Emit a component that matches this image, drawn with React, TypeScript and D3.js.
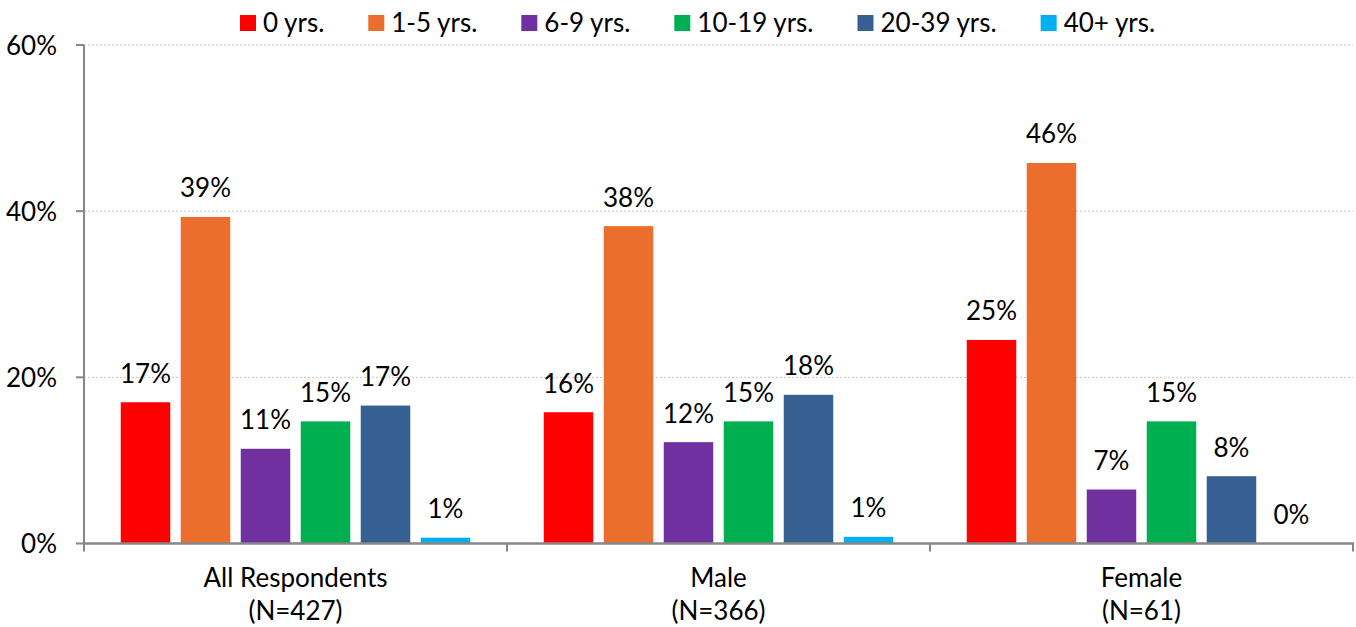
import React, { useEffect, useRef } from "react";
import * as d3 from "d3";

const groups = ["All Respondents", "Male", "Female"];
const groupNs = ["(N=427)", "(N=366)", "(N=61)"];
const seriesNames = ["0 yrs.", "1-5 yrs.", "6-9 yrs.", "10-19 yrs.", "20-39 yrs.", "40+ yrs."];
const seriesColors = ["#FF0000", "#EB6E2D", "#7030A0", "#00B050", "#366092", "#00B0F0"];

// percentage of respondents per tenure bucket, one array per group
const allRespondents = [17.0, 39.3, 11.4, 14.7, 16.6, 0.7];
const male = [15.8, 38.2, 12.2, 14.7, 17.9, 0.8];
const female = [24.5, 45.8, 6.5, 14.7, 8.1, 0.0];
const groupValues = [allRespondents, male, female];

const yTicks = [0, 20, 40, 60];

const W = 1356;
const H = 627;
const FONT = "Lato, 'Open Sans', sans-serif";
const FS = 26;

export default function App() {
  const ref = useRef<SVGSVGElement | null>(null);

  useEffect(() => {
    const svg = d3.select(ref.current);
    svg.selectAll("*").remove();

    const left = 84;
    const right = 1353;
    const bottom = 543.5;
    const top = 45;

    const x0 = d3.scaleBand<string>().domain(groups).range([left, right]).padding(0);
    const x1 = d3
      .scaleBand<string>()
      .domain(seriesNames)
      .range([0, x0.bandwidth()])
      .paddingInner(0.175)
      .paddingOuter(0.6125);
    const y = d3.scaleLinear().domain([0, 60]).range([bottom, top]);

    // gridlines
    svg
      .append("g")
      .selectAll("line")
      .data(yTicks.filter((t) => t > 0))
      .join("line")
      .attr("x1", left)
      .attr("x2", right)
      .attr("y1", (d) => y(d))
      .attr("y2", (d) => y(d))
      .attr("stroke", "#c4c4c4")
      .attr("stroke-width", 1)
      .attr("stroke-dasharray", "2,2");

    // bars
    const g = svg
      .append("g")
      .selectAll("g")
      .data(groups)
      .join("g")
      .attr("transform", (d) => `translate(${x0(d)},0)`);

    g.selectAll("rect")
      .data((d, i) => groupValues[i].map((v, j) => ({ key: seriesNames[j], v, c: seriesColors[j] })))
      .join("rect")
      .attr("x", (d) => x1(d.key)!)
      .attr("width", x1.bandwidth())
      .attr("y", (d) => y(d.v))
      .attr("height", (d) => bottom - y(d.v))
      .attr("fill", (d) => d.c);

    // value labels
    g.selectAll("text")
      .data((d, i) => groupValues[i].map((v, j) => ({ key: seriesNames[j], v })))
      .join("text")
      .attr("x", (d) => x1(d.key)! + x1.bandwidth() / 2)
      .attr("y", (d) => y(d.v) - 19.5)
      .attr("text-anchor", "middle")
      .attr("font-family", FONT)
      .attr("font-size", FS)
      .attr("fill", "#000")
      .text((d) => `${Math.round(d.v)}%`);

    // y axis
    const axisColor = "#878787";
    svg
      .append("line")
      .attr("x1", left)
      .attr("x2", left)
      .attr("y1", top)
      .attr("y2", bottom)
      .attr("stroke", axisColor)
      .attr("stroke-width", 2);
    const yt = svg.append("g").selectAll("g").data(yTicks).join("g");
    yt.append("line")
      .attr("x1", left - 8)
      .attr("x2", left)
      .attr("y1", (d) => y(d))
      .attr("y2", (d) => y(d))
      .attr("stroke", axisColor)
      .attr("stroke-width", 2);
    yt.append("text")
      .attr("x", 57)
      .attr("y", (d) => y(d) + 9.5)
      .attr("text-anchor", "end")
      .attr("font-family", FONT)
      .attr("font-size", FS)
      .attr("fill", "#000")
      .text((d) => `${d}%`);

    // x axis
    svg
      .append("line")
      .attr("x1", left)
      .attr("x2", right + 1)
      .attr("y1", bottom)
      .attr("y2", bottom)
      .attr("stroke", axisColor)
      .attr("stroke-width", 2.5);
    const bounds = groups.map((gname) => x0(gname)!).concat([right]);
    svg
      .append("g")
      .selectAll("line")
      .data(bounds)
      .join("line")
      .attr("x1", (d) => d)
      .attr("x2", (d) => d)
      .attr("y1", bottom)
      .attr("y2", bottom + 8)
      .attr("stroke", axisColor)
      .attr("stroke-width", 2);

    const xl = svg.append("g").selectAll("text").data(groups).join("text")
      .attr("x", (d) => x0(d)! + x0.bandwidth() / 2)
      .attr("y", 587)
      .attr("text-anchor", "middle")
      .attr("font-family", FONT)
      .attr("font-size", FS)
      .attr("fill", "#000");
    xl.append("tspan").attr("x", (d) => x0(d)! + x0.bandwidth() / 2).text((d) => d);
    xl.append("tspan")
      .attr("x", (d) => x0(d)! + x0.bandwidth() / 2)
      .attr("dy", 33)
      .text((d, i) => groupNs[i]);

    // legend
    const leg = svg.append("g");
    let cx = 240;
    seriesNames.forEach((name, i) => {
      leg.append("rect")
        .attr("x", cx)
        .attr("y", 15)
        .attr("width", 16)
        .attr("height", 16)
        .attr("fill", seriesColors[i]);
      const t = leg.append("text")
        .attr("x", cx + 23)
        .attr("y", 31.5)
        .attr("font-family", FONT)
        .attr("font-size", FS)
        .attr("fill", "#000")
        .text(name);
      const w = (t.node() as SVGTextElement).getComputedTextLength();
      cx = cx + 23 + w + 44;
    });
  }, []);

  return (
    <svg
      ref={ref}
      width={W}
      height={H}
      style={{ position: "absolute", left: 0, top: 0, background: "#fff" }}
    />
  );
}
